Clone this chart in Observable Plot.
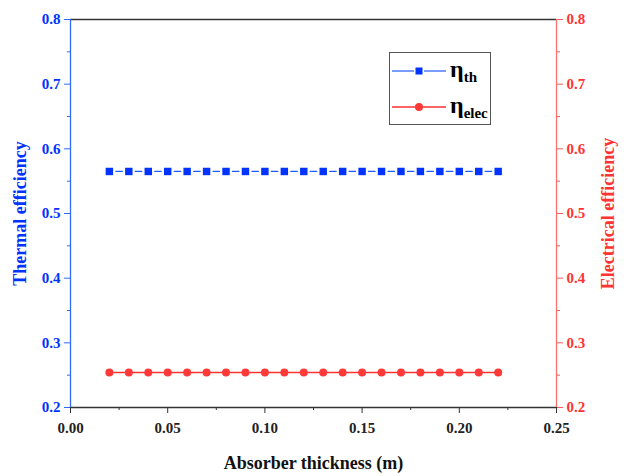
<!DOCTYPE html>
<html>
<head>
<meta charset="utf-8">
<script src="https://cdn.jsdelivr.net/npm/d3@7"></script>
<script src="https://cdn.jsdelivr.net/npm/@observablehq/plot@0.6"></script>
<style>
  html, body { margin: 0; padding: 0; background: #fff; }
  #wrap { position: relative; width: 629px; height: 476px; font-family: "Liberation Serif", "Times New Roman", serif; }
  #chart svg, #chart svg text { font-family: "Liberation Serif", serif !important; }
  #legend { position: absolute; left: 389px; top: 52px; width: 102px; height: 73px; border: 1.5px solid #555; background: #fff; box-sizing: border-box; }
  .item { position: absolute; left: 2px; height: 20px; display: flex; align-items: center; }
  .lbl { font-family: "Liberation Serif", serif; font-weight: bold; font-size: 24px; color: #000; margin-left: 4px; line-height: 1; }
  .lbl sub { font-size: 15px; vertical-align: -5px; }
</style>
</head>
<body>
<div id="wrap">
  <div id="chart"></div>
  <div id="legend">
    <div class="item" style="top:8px"><svg width="54" height="20"><line x1="0" y1="10" x2="22" y2="10" stroke="#1a5cff" stroke-width="1.2"/><line x1="32" y1="10" x2="54" y2="10" stroke="#1a5cff" stroke-width="1.2"/><rect x="23.5" y="6.5" width="7" height="7" fill="#0033ff"/></svg><span class="lbl">η<sub>th</sub></span></div>
    <div class="item" style="top:44px"><svg width="54" height="20"><line x1="0" y1="10" x2="54" y2="10" stroke="#ff3030" stroke-width="1.5"/><circle cx="27" cy="10" r="4" fill="#ff3838"/></svg><span class="lbl">η<sub>elec</sub></span></div>
  </div>
</div>
<script>
const thickness = [0.02,0.03,0.04,0.05,0.06,0.07,0.08,0.09,0.10,0.11,0.12,0.13,0.14,0.15,0.16,0.17,0.18,0.19,0.20,0.21,0.22];
const thermalEff = [0.565,0.565,0.565,0.565,0.565,0.565,0.565,0.565,0.565,0.565,0.565,0.565,0.565,0.565,0.565,0.565,0.565,0.565,0.565,0.565,0.565];
const electricalEff = [0.254,0.254,0.254,0.254,0.254,0.254,0.254,0.254,0.254,0.254,0.254,0.254,0.254,0.254,0.254,0.254,0.254,0.254,0.254,0.254,0.254];
const xTicks = [0, 0.05, 0.10, 0.15, 0.20, 0.25];
const xMinor = [0.025, 0.075, 0.125, 0.175, 0.225];
const yTicks = [0.2, 0.3, 0.4, 0.5, 0.6, 0.7, 0.8];
const yMinor = [0.25, 0.35, 0.45, 0.55, 0.65, 0.75];

const th = thickness.map((x, i) => ({x, y: thermalEff[i]}));
const el = thickness.map((x, i) => ({x, y: electricalEff[i]}));

const W = 629, H = 476, mL = 70, mR = 73, mT = 19, mB = 69;
const step = (0.01 / 0.25) * (W - mL - mR);
const gap = 6.5, dash = step - 2 * gap;

const blue = "#0033ff", blueAxis = "#2f6bff", red = "#ff3333";
const ff = "Liberation Serif, serif";

const plot = Plot.plot({
  width: W, height: H,
  marginLeft: mL, marginRight: mR, marginTop: mT, marginBottom: mB,
  style: {fontFamily: ff, fontWeight: "bold", fontSize: "15px", background: "#fff"},
  x: {domain: [0, 0.25]},
  y: {domain: [0.2, 0.8]},
  marks: [
    Plot.ruleY([0.8], {stroke: "#333", strokeWidth: 1.3}),
    Plot.ruleY([0.2], {stroke: "#333", strokeWidth: 1.3}),
    Plot.axisX({ticks: xTicks, tickFormat: d3.format(".2f"), tickSize: 6, tickPadding: 9, stroke: "#333", fill: "#222", fontSize: 15, fontFamily: ff, fontWeight: "bold", label: null}),
    Plot.axisX({ticks: xMinor, text: null, tickSize: 3, stroke: "#333", label: null}),
    Plot.axisY({anchor: "left", ticks: yTicks, tickFormat: d3.format(".1f"), tickSize: 6, tickPadding: 4, stroke: blueAxis, fill: blue, fontSize: 15, fontFamily: ff, fontWeight: "bold", label: null}),
    Plot.axisY({anchor: "left", ticks: yMinor, text: null, tickSize: 3, stroke: blueAxis, label: null}),
    Plot.axisY({anchor: "right", ticks: yTicks, tickFormat: d3.format(".1f"), tickSize: 6, tickPadding: 4, stroke: "#ff5a5a", fill: red, fontSize: 15, fontFamily: ff, fontWeight: "bold", label: null}),
    Plot.axisY({anchor: "right", ticks: yMinor, text: null, tickSize: 3, stroke: "#ff5a5a", label: null}),
    Plot.ruleX([0], {stroke: blueAxis, strokeWidth: 1.3}),
    Plot.ruleX([0.25], {stroke: "#ff7070", strokeWidth: 1.3}),
    Plot.line(th, {x: "x", y: "y", stroke: "#1a5cff", strokeWidth: 1.2, strokeDasharray: `0 ${gap} ${dash} ${gap}`}),
    Plot.dot(th, {x: "x", y: "y", symbol: "square", r: 4.2, fill: blue, stroke: "none"}),
    Plot.line(el, {x: "x", y: "y", stroke: red, strokeWidth: 1.5}),
    Plot.dot(el, {x: "x", y: "y", symbol: "circle", r: 4, fill: "#ff3838", stroke: "none"}),
    Plot.text(["Absorber thickness (m)"], {frameAnchor: "bottom", dy: 61, fontSize: 18, fill: "#111", fontWeight: "bold", fontFamily: ff}),
    Plot.text(["Thermal efficiency"], {frameAnchor: "left", textAnchor: "middle", dx: -50, rotate: -90, fontSize: 18, fill: blue, fontWeight: "bold", fontFamily: ff}),
    Plot.text(["Electrical efficiency"], {frameAnchor: "right", textAnchor: "middle", dx: 52, rotate: -90, fontSize: 18, fill: red, fontWeight: "bold", fontFamily: ff})
  ]
});
document.getElementById("chart").appendChild(plot);
</script>
</body>
</html>
